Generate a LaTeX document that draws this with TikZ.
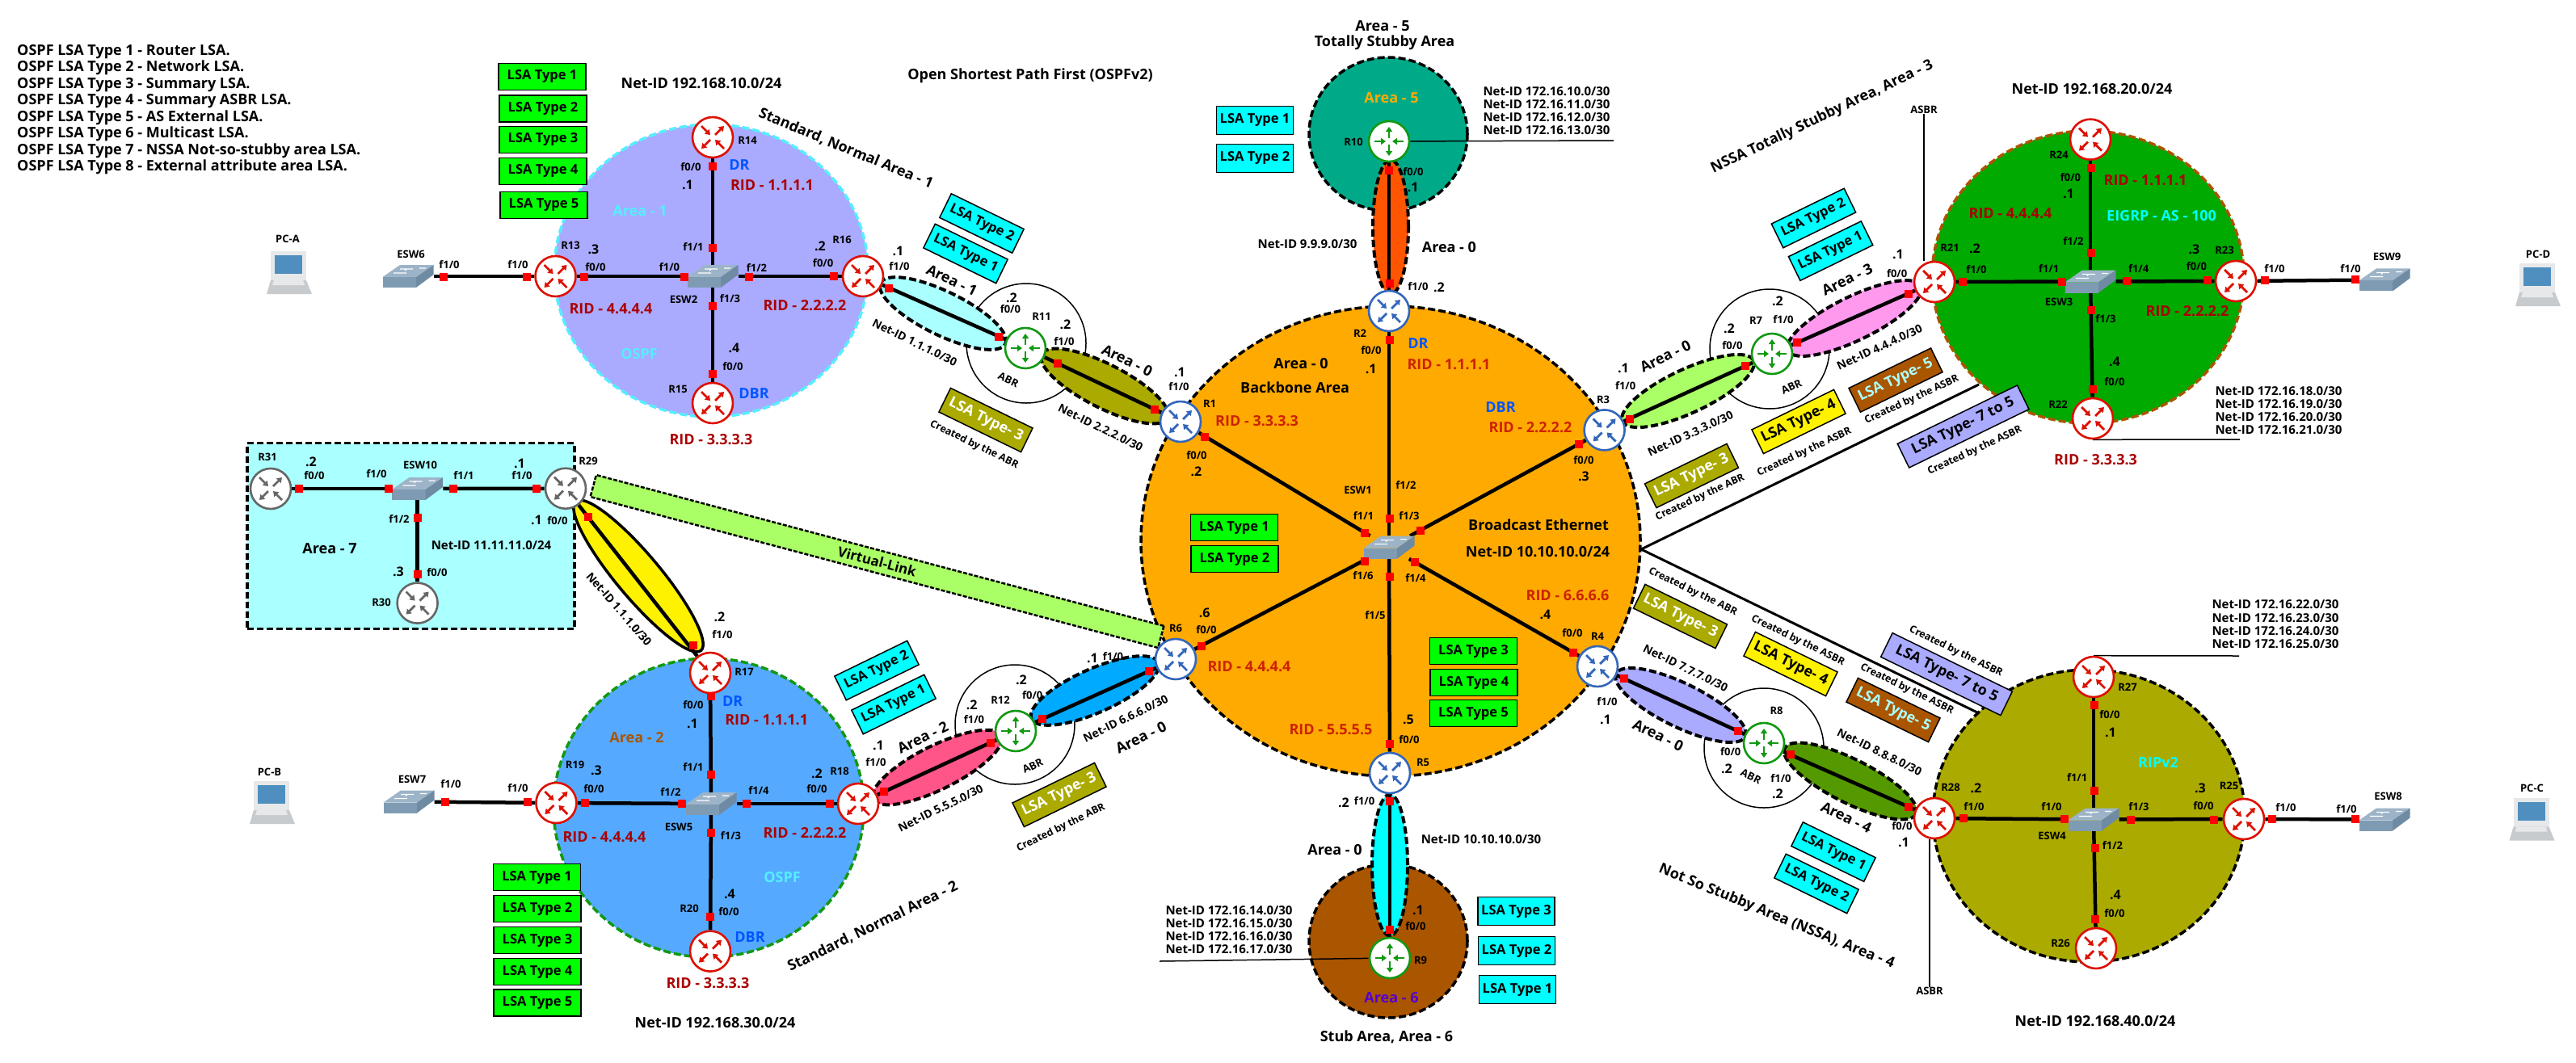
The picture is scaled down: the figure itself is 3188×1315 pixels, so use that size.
\documentclass[tikz,border=0pt]{standalone}
\usepackage{fontspec}
\setmainfont{Open Sans}
\usetikzlibrary{shapes.geometric,arrows.meta}
\pgfdeclarelayer{back}
\pgfdeclarelayer{mid}
\pgfsetlayers{back,mid,main}
\definecolor{lsagreen}{HTML}{00FF00}
\definecolor{lsacyan}{HTML}{00FFFF}
\definecolor{ospforange}{HTML}{FFAA00}
\definecolor{ridred}{HTML}{AA0000}
\definecolor{ridorange}{HTML}{CC2200}
\definecolor{drblue}{HTML}{0055FF}
\definecolor{areabrown}{HTML}{AA5500}
\definecolor{areaolive}{HTML}{AAAA00}
\definecolor{lavender}{HTML}{AAAAFF}
\definecolor{paleaqua}{HTML}{AAFFFF}
\definecolor{palegreen}{HTML}{AAFF66}
\definecolor{skyfill}{HTML}{55AAFF}
\definecolor{tealfill}{HTML}{00AA88}
\definecolor{grassfill}{HTML}{00AA00}
\definecolor{routerred}{HTML}{DD1100}
\definecolor{routerblue}{HTML}{3366BB}
\definecolor{routergreen}{HTML}{119911}
\definecolor{routergray}{HTML}{666666}
\definecolor{swtop}{HTML}{9DB4C8}
\definecolor{swfront}{HTML}{7F9BB3}
\definecolor{swside}{HTML}{6F8BA3}
\definecolor{screenblue}{HTML}{4F8FC0}
\definecolor{pcbody}{HTML}{E6E8EA}
\definecolor{pcbase}{HTML}{C8CBCE}
\definecolor{tunpink}{HTML}{FF99EE}
\definecolor{tunrose}{HTML}{FF5588}
\definecolor{tunblue}{HTML}{00AAFF}
\definecolor{tunred}{HTML}{FF5500}
\definecolor{tungreen}{HTML}{559900}
\definecolor{areaviolet}{HTML}{5500CC}
\definecolor{areacyan}{HTML}{55EEFF}
\tikzset{
  tinytxt/.style={inner sep=0pt,font=\fontsize{13}{15}\selectfont\bfseries},
  dottxt/.style={inner sep=0pt,font=\fontsize{16}{18}\selectfont\bfseries},
  madetxt/.style={inner sep=0pt,font=\fontsize{12.5}{14}\selectfont\bfseries},
  slanttxt/.style={inner sep=0pt,font=\fontsize{14}{16}\selectfont\bfseries},
  midtxt/.style={inner sep=0pt,font=\fontsize{15}{16}\selectfont\bfseries},
  bigtxt/.style={inner sep=0pt,font=\fontsize{18}{20}\selectfont\bfseries},
  ridtxt/.style={inner sep=0pt,text=ridred,font=\fontsize{18}{20}\selectfont\bfseries},
  lsabox/.style={draw=black,line width=1.5pt,inner sep=0pt,minimum width=108pt,minimum height=33pt,
    font=\fontsize{16.5}{17}\selectfont\bfseries},
  greenlsa/.style={lsabox,fill=lsagreen},
  cyanlsa/.style={lsabox,fill=lsacyan,minimum width=95pt,minimum height=35pt},
  slantlsa/.style={lsabox,minimum width=113pt,font=\fontsize{18}{19}\selectfont\bfseries},
  area/.style={ellipse,inner sep=0pt,line width=3.5pt,dash pattern=on 9pt off 4pt},
  tunnel/.style={area,draw=black,line width=4pt,minimum height=54pt},
  abrzone/.style={circle,draw=black,line width=1.5pt,fill=white,inner sep=0pt,minimum size=148pt},
  link/.style={draw=black,line width=4.5pt},
  thinlink/.style={draw=black,line width=1.5pt},
  dashline/.style={draw=black,line width=3pt},
  port/.style={fill=red,inner sep=0pt,minimum size=10pt},
  rarrow/.style={line width=2.8pt,-{Triangle[length=6pt,width=8pt]}},
  router/.style={circle,draw=#1,line width=2.6pt,fill=white,inner sep=0pt,minimum size=50pt,
    path picture={
      \begin{scope}[shift={(path picture bounding box.center)}]
        \draw[rarrow,#1] (-14,-14) -- (-3,-3);
        \draw[rarrow,#1] (3,-3) -- (14,-14);
        \draw[rarrow,#1] (-3,3) -- (-14,14);
        \draw[rarrow,#1] (14,14) -- (3,3);
      \end{scope}}},
  abrouter/.style={circle,draw=routergreen,line width=2.6pt,fill=white,inner sep=0pt,minimum size=50pt,
    path picture={
      \begin{scope}[shift={(path picture bounding box.center)}]
        \draw[rarrow,routergreen] (0,-4) -- (0,-18);
        \draw[rarrow,routergreen] (0,4) -- (0,18);
        \draw[rarrow,routergreen] (-18,0) -- (-4,0);
        \draw[rarrow,routergreen] (18,0) -- (4,0);
      \end{scope}}},
  switchbox/.style={inner sep=0pt,minimum width=63pt,minimum height=28pt,
    path picture={
      \begin{scope}[shift={(path picture bounding box.center)}]
        \fill[swtop] (-31.5,1) -- (-10,-14) -- (31.5,-14) -- (10,1) -- cycle;
        \fill[swfront] (-31.5,1) -- (10,1) -- (10,14) -- (-31.5,14) -- cycle;
        \fill[swside] (10,1) -- (31.5,-14) -- (31.5,-2) -- (10,14) -- cycle;
        \draw[white,line width=1.2pt] (-10,-9) -- (6,-9) (-2,-4) -- (-18,-4) (14,-10) -- (22,-10) (-2,-9) -- (-4,-7);
      \end{scope}}},
  pcbox/.style={inner sep=0pt,minimum width=60pt,minimum height=56pt,
    path picture={
      \begin{scope}[shift={(path picture bounding box.center)}]
        \fill[pcbody] (-23,-27) rectangle (21,9);
        \fill[screenblue] (-18,-22) rectangle (16,1);
        \fill[pcbase] (-23,9) -- (21,9) -- (28,26) -- (-28,26) -- cycle;
        \fill[pcbody] (-19,9) -- (17,9) -- (19,15) -- (-21,15) -- cycle;
      \end{scope}}}
}
\begin{document}
\begin{tikzpicture}[x=1pt,y=-1pt]
  \useasboundingbox (0,0) rectangle (3188,1315);

  % areas
  \begin{pgfonlayer}{back}
    \node (Area1) [area,draw=areacyan,fill=lavender,minimum width=388pt,minimum height=362pt] at (880,335) {};
    \node (Area2) [area,draw=routergreen,fill=skyfill,minimum width=384pt,minimum height=370pt] at (877,1000) {};
    \node (Area0) [area,draw=black,fill=ospforange,minimum width=618pt,minimum height=582pt] at (1721,670) {};
    \node (Area5) [area,draw=black,fill=tealfill,minimum width=196pt,minimum height=190pt] at (1718,166) {};
    \node (Area6) [area,draw=black,fill=areabrown,minimum width=196pt,minimum height=190pt] at (1718,1165) {};
    \node (Area3) [area,draw=areabrown,fill=grassfill,minimum width=386pt,minimum height=362pt] at (2584,343) {};
    \node (Area4) [area,draw=black,fill=areaolive,minimum width=386pt,minimum height=362pt] at (2585,1010) {};
    \node (Area7) [draw=black,line width=3.5pt,dash pattern=on 8pt off 4pt,fill=paleaqua,inner sep=0pt,
      minimum width=405pt,minimum height=230pt] at (508.5,663.5) {};
  \end{pgfonlayer}

  % routers
  \foreach \n/\x/\y in {R1/1461/522,R2/1719/385,R3/1985.6/532.4,R4/1977/825,R5/1720/957,R6/1455/816}
    \node (\n) [router=routerblue] at (\x,\y) {};
  \foreach \n/\x/\y in {R14/882/170,R13/687.5/342,R16/1068/342,R15/882/499,
      R17/879/833,R19/688.4/994,R18/1062/995,R20/879/1177.6,
      R24/2587/172.6,R21/2394/349,R23/2767/348,R22/2590/518,
      R27/2591/838,R28/2394/1013,R25/2777/1014,R26/2594/1174}
    \node (\n) [router=routerred] at (\x,\y) {};
  \foreach \n/\x/\y in {R31/335/605,R29/700/604.7,R30/516.6/746.6}
    \node (\n) [router=routergray] at (\x,\y) {};
  \foreach \n/\x/\y in {R7/2193/438,R8/2183/920,R9/1720/1186,R10/1719/175,R11/1269/431,R12/1257/905}
    \node (\n) [abrouter] at (\x,\y) {};

  % switches and hosts
  \foreach \n/\x/\y in {ESW1/1719/677.6,ESW2/882/342,ESW3/2587/348.5,ESW4/2591/1014.5,ESW5/880/995,
      ESW6/505/342,ESW7/506/992.5,ESW8/2951/1014.5,ESW9/2951/346.4,ESW10/516.6/605}
    \node (\n) [switchbox] at (\x,\y) {};
  \foreach \n/\x/\y in {PCA/358/338,PCB/337/994,PCC/3133.5/1014.5,PCD/3141/353}
    \node (\n) [pcbox] at (\x,\y) {};

  % tunnels between the areas
  \begin{pgfonlayer}{mid}
    \node (zoneR11) [abrzone] at (1270,425) {};
    \node (zoneR12) [abrzone] at (1256,897) {};
    \node (zoneR7) [abrzone] at (2190,432) {};
    \node (zoneR8) [abrzone] at (2183,926) {};

    \node (vlink) [draw=black,line width=2.5pt,dash pattern=on 5pt off 2pt,fill=palegreen,rotate=-14.9,
      inner sep=0pt,minimum width=727pt,minimum height=28pt,font=\fontsize{17}{18}\selectfont\bfseries] at (1085.5,695) {Virtual-Link};

    \node (tunR16) [tunnel,fill=paleaqua,rotate=-26,minimum width=172pt] at (1167,388) {};
    \node (tunR1) [tunnel,fill=areaolive,rotate=-27,minimum width=175pt] at (1367,478) {};
    \node (tunR3) [tunnel,fill=palegreen,rotate=25,minimum width=179pt] at (2089,484) {};
    \node (tunR21) [tunnel,fill=tunpink,rotate=26,minimum width=183pt] at (2295,394) {};
    \node (tunR4) [tunnel,fill=lavender,rotate=-26,minimum width=178pt] at (2080,873) {};
    \node (tunR28) [tunnel,fill=tungreen,rotate=-26.7,minimum width=182pt] at (2290,967) {};
    \node (tunR18) [tunnel,fill=tunrose,rotate=26.5,minimum width=177pt] at (1160,950) {};
    \node (tunR6) [tunnel,fill=tunblue,rotate=24,minimum width=172pt] at (1355,855) {};
    \node (tunR2) [tunnel,fill=tunred,minimum width=44pt,minimum height=166pt] at (1721,281) {};
    \node (tunR5) [tunnel,fill=lsacyan,minimum width=44pt,minimum height=175pt] at (1720,1071) {};
    \node (tunR29) [ellipse,draw=black,line width=3.5pt,fill=yellow,inner sep=0pt,rotate=-50,
      minimum width=241pt,minimum height=54pt] at (790,713) {};

    % links
    \foreach \a/\b in {R14/ESW2,R13/ESW2,R16/ESW2,R15/ESW2,R13/ESW6,
        R17/ESW5,R19/ESW5,R18/ESW5,R20/ESW5,R19/ESW7,
        R1/ESW1,R2/ESW1,R3/ESW1,R4/ESW1,R5/ESW1,R6/ESW1,
        R24/ESW3,R21/ESW3,R23/ESW3,R22/ESW3,R23/ESW9,
        R27/ESW4,R28/ESW4,R25/ESW4,R26/ESW4,R25/ESW8,
        R31/ESW10,R29/ESW10,R30/ESW10,
        R16/R11,R11/R1,R18/R12,R12/R6,R3/R7,R7/R21,R4/R8,R8/R28,R2/R10,R5/R9,R29/R17}
      \draw[link] (\a) -- (\b);

    \coordinate (endR10) at (1997,174);
    \coordinate (endR9) at (1435,1190);
    \coordinate (endR22) at (2772,544);
    \coordinate (endR27) at (2771,812);
    \coordinate (brk) at (2031,680);
    \coordinate (brkUp) at (2449,476);
    \coordinate (brkLow) at (2447,882);
    \draw[thinlink] (R10) -- (endR10);
    \draw[thinlink] (R9) -- (endR9);
    \draw[thinlink] (R22.south) -- (endR22);
    \draw[thinlink] (R27.north) -- (endR27);
    \draw[dashline] (brk) -- (brkUp);
    \draw[dashline] (brk) -- (brkLow);
  \end{pgfonlayer}

  % port marks
  \foreach[count=\i] \x/\y in {549/343,652/343,723/343,847/343,927/343,1032/342,882/307,882/206,882/379,882/463,
      370/605,481/605,561/605,664/605,516.6/641,516.6/711,728/640,857.5/799,
      551/993,652.6/993,724/994,844/995,924/995,1026.6/995,880/959,880/862,880/1031,879/1134.5,
      1100/356.5,1236/416.7,1309/450,1429/507,1094/980,1226/920,1290/890,1422/830.5,
      1491/541,1954/550,1720/421,1486.6/799.5,1689/660,1688.6/695,1720/642,1758/657,1750.6/696,1720/714,1947/808,1720/921,
      1719/210.5,1720/350.6,1720/992,1720/1150.5,
      2009.5/840,2151/905,2216/934,2362/998.6,2160/452.5,2017/518.5,2224/424,2362/364,
      2429/349,2552/349,2632/348,2731.5/347,2802.6/347,2915/346.4,2588/208,2588/313,2588/384,2590/482,
      2430/1013,2555/1013.7,2636.5/1014.5,2740/1014.5,2811.5/1014,2915/1014,2592/873,2592/979,2592.5/1050,2593/1138}
    \node (port\i) [port] at (\x,\y) {};

  % interface names
  \foreach[count=\i] \x/\y in {855/207,737/331,1018.6/326,907/454,389/589,690/645,541/709,
      858/873,735/977,1011/977,902/1129,1277.7/861,1481/564,1697/434,1960/570,1493/779.5,1946/783.5,1744/916,
      1749/213,1752/1147,1250.4/383,2144/428,2141.7/931,2562.4/220,2718.5/330,2617/472.6,2347.6/339,
      2611/885,2727/998,2617/1131,2354/1023}
    \node (fa\i) [tinytxt] at (\x,\y) {f0/0};
  \foreach[count=\i] \x/\y in {556/328,641/327.5,828.5/331,1113/330,1317/422.6,466/587,646/589,894/786,
      558/971,641/976,1084/944,1205.5/891,1377.5/813,1459/479,1755/355,2011.6/478,1688.6/992,1989/869,
      2207/396,2204/964,2446/334,2815/333,2909/332.5,2443/998.6,2539/998.6,2829/1000,2904/1002}
    \node (fb\i) [tinytxt] at (\x,\y) {f1/0};
  \foreach[count=\i] \x/\y in {858/306,574/589,858/950,1687.5/639,2535.6/332.5,2570.6/963}
    \node (fc\i) [tinytxt] at (\x,\y) {f1/1};
  \foreach[count=\i] \x/\y in {936.5/332,494/643,830/981,1740/600.6,2566/299,2614.5/1047}
    \node (fd\i) [tinytxt] at (\x,\y) {f1/2};
  \foreach[count=\i] \x/\y in {903.5/370,904.5/1035,1744/639,2606/395,2647/998.6}
    \node (fe\i) [tinytxt] at (\x,\y) {f1/3};
  \foreach[count=\i] \x/\y in {939/979,1752/716,2646.6/333}
    \node (ff\i) [tinytxt] at (\x,\y) {f1/4};
  \node (fg1) [tinytxt] at (1702,762) {f1/5};
  \node (fh1) [tinytxt] at (1687,713) {f1/6};

  % host addresses
  \foreach[count=\i] \x/\y/\t in {851/229/1,1111.5/310.6/1,643/574/1,664/644/1,857/896/1,1087/923/1,1352/815/1,1460/461/1,
      1696.6/457/1,1748.6/232/1,2009/456/1,1755/1126.6/1,1987/891/1,2560/240/1,2349/315/1,2612/907/1,2356/1043/1,
      1015/305/2,385/572/2,1252/369/2,1318.5/401.5/2,890.5/764/2,1011/958/2,1202.6/873/2,1264/842/2,1480.5/584/2,
      1781/356/2,1663/993.6/2,2200/373/2,2140/407/2,2137/952/2,2200/983/2,2444/308/2,2445.5/976/2,
      734.5/309/3,493/707.6/3,738/954/3,1960/590/3,2715.5/309/3,2723/976/3,
      908.5/431/4,903/1106.6/4,1912.5/760.5/4,2617/448/4,2618/1108/4,1743/891/5,1490.6/759/6}
    \node (dot\i) [dottxt] at (\x,\y) {.\t};

  % device names
  \foreach[count=\i] \x/\y/\t in {925/174/R14,706/304/R13,1042/297/R16,839/482/R15,331/565.6/R31,728/571/R29,472/746/R30,
      921/832/R17,711.6/947/R19,1039/955/R18,853/1125/R20,1238/867/R12,1455/778/R6,1497/500/R1,1683/413/R2,1984/495/R3,
      1977/788/R4,1761/944/R5,1758/1188.6/R9,1675/176/R10,1289/392/R11,2548/192/R24,2413/307/R21,2753/310/R23,2547/501/R22,
      2173/397/R7,2198.5/880/R8,2633/851/R27,2414/974.5/R28,2758.5/973/R25,2550/1168/R26,
      846/371/ESW2,508.6/315/ESW6,520/576/ESW10,510/965/ESW7,840/1023.5/ESW5,1680.5/606.5/ESW1,2548/374/ESW3,
      2954/318/ESW9,2539.5/1035/ESW4,2955.5/986/ESW8,356/296/PC-A,333.5/955.5/PC-B,3133.5/976/PC-C,3141/314.4/PC-D}
    \node (dev\i) [tinytxt] at (\x,\y) {\t};
  \node (ASBRa) [tinytxt] at (2381,136) {ASBR};
  \node (ASBRb) [tinytxt] at (2388,1227) {ASBR};
  \begin{pgfonlayer}{mid}
    \draw[thinlink] (ASBRa.south) -- (ASBRa.south |- R21.north);
    \draw[thinlink] (ASBRb.north) -- (ASBRb.north |- R28.south);
  \end{pgfonlayer}

  % router ids
  \foreach[count=\i] \x/\y/\t in {955.5/229/1.1.1.1,756/382/4.4.4.4,996/378/2.2.2.2,880/544/3.3.3.3,
      948.7/891/1.1.1.1,748/1036/4.4.4.4,996/1031/2.2.2.2,876/1217/3.3.3.3,
      2655/223.5/1.1.1.1,2488/264/4.4.4.4,2707/385.5/2.2.2.2,2593.6/569.5/3.3.3.3}
    \node (rid\i) [ridtxt] at (\x,\y) {RID - \t};
  \foreach[count=\i] \x/\y/\t in {1555.6/521.5/3.3.3.3,1793/451/1.1.1.1,1894/529.5/2.2.2.2,1546/825.6/4.4.4.4,1647/903/5.5.5.5,1940/737.5/6.6.6.6}
    \node (ridz\i) [ridtxt,text=ridorange] at (\x,\y) {RID - \t};

  % DR and DBR
  \foreach[count=\i] \x/\y/\t in {915/204/DR,933/487/DBR,906.6/868/DR,928/1160/DBR,1755/425.5/DR,1857/504/DBR}
    \node (role\i) [bigtxt,text=drblue] at (\x,\y) {\t};

  % coloured area names
  \node (nameA1) [bigtxt,text=areacyan] at (792,261) {Area - 1};
  \node (nameO1) [bigtxt,text=areacyan] at (791,438) {OSPF};
  \node (nameA2) [bigtxt,text=areabrown] at (788,913) {Area - 2};
  \node (nameO2) [bigtxt,text=areacyan] at (968,1086) {OSPF};
  \node (nameA5) [bigtxt,text=ospforange] at (1722,121.6) {Area - 5};
  \node (nameA6) [bigtxt,text=areaviolet] at (1722,1235) {Area - 6};
  \node (nameE) [bigtxt,text=lsacyan] at (2675,267) {EIGRP - AS - 100};
  \node (nameR) [bigtxt,text=lsacyan] at (2671,944) {RIPv2};

  % black titles
  \foreach[count=\i] \x/\y/\t in {868/103/192.168.10.0,885/1266/192.168.30.0,
      2589/110/192.168.20.0,2593/1264/192.168.40.0,1903/683/10.10.10.0}
    \node (net\i) [bigtxt] at (\x,\y) {Net-ID \t/24};
  \node (title) [bigtxt] at (1275,94) {Open Shortest Path First (OSPFv2)};
  \node (titleA5) [bigtxt] at (1711,32) {Area - 5};
  \node (titleTS) [bigtxt] at (1713.5,53) {Totally Stubby Area};
  \node (titleA0) [bigtxt] at (1610,450) {Area - 0};
  \node (titleBB) [bigtxt] at (1602.6,480) {Backbone Area};
  \node (titleBE) [bigtxt] at (1904,650) {Broadcast Ethernet};
  \node (titleA7) [bigtxt] at (408,679) {Area - 7};
  \node (titleSt) [bigtxt] at (1716,1283.5) {Stub Area, Area - 6};
  \node (titleUp) [bigtxt] at (1793.4,305.6) {Area - 0};
  \node (titleDn) [bigtxt] at (1652,1052) {Area - 0};

  % slanted titles
  \node (slantS1) [bigtxt,rotate=-22.5] at (1047,184) {Standard, Normal Area - 1};
  \node (slantS2) [bigtxt,rotate=26] at (1080,1147) {Standard, Normal Area - 2};
  \node (slantN3) [bigtxt,rotate=25.5] at (2255,145) {NSSA Totally Stubby Area, Area - 3};
  \node (slantN4) [bigtxt,rotate=-22.3] at (2198.5,1135) {Not So Stubby Area (NSSA), Area - 4};
  \foreach[count=\i] \x/\y/\a/\t in {1178/347/-26/Area - 1,1395/446/-26/Area - 0,1142/913/26/Area - 2,1412/913/26/Area - 0,
      2061/441/26/Area - 0,2286/346/26/Area - 3,2052/910/-26/Area - 0,2285/1012/-26/Area - 4}
    \node (slantA\i) [bigtxt,rotate=\a] at (\x,\y) {\t};

  % net ids
  \foreach[count=\i] \x/\y/\a/\t in {1132/424/-26/1.1.1.0,1362/529.5/-26/2.2.2.0,766/754/-49/1.1.1.0,
      1164/1000.6/26/5.5.5.0,1393/889.5/26/6.6.6.0,2092/537/25/3.3.3.0,2326/430/25/4.4.4.0,
      2086/827/-26/7.7.7.0,2326/931/-26/8.8.8.0}
    \node (slantN\i) [slanttxt,rotate=\a] at (\x,\y) {Net-ID \t/30};
  \node (netA7) [midtxt] at (608,675) {Net-ID 11.11.11.0/24};
  \foreach[count=\i] \x/\y/\t in {1618/302/9.9.9.0,1833/1039/10.10.10.0,
      1914/113/172.16.10.0,1914/129/172.16.11.0,1914/145/172.16.12.0,1914/161/172.16.13.0,
      1521/1127/172.16.14.0,1521/1143/172.16.15.0,1521/1159/172.16.16.0,1521/1175/172.16.17.0,
      2820/484.5/172.16.18.0,2820/500.5/172.16.19.0,2820/516.5/172.16.20.0,2820/532.4/172.16.21.0,
      2816/748.5/172.16.22.0,2816/765/172.16.23.0,2816/781/172.16.24.0,2816/797/172.16.25.0}
    \node (netS\i) [midtxt] at (\x,\y) {Net-ID \t/30};

  % abr tags and creators
  \foreach[count=\i] \x/\y/\a in {1248/470/-26,1278/948/26,2217/479/25,2167/961/-26}
    \node (abr\i) [tinytxt,rotate=\a] at (\x,\y) {ABR};
  \foreach[count=\i] \x/\y/\a/\t in {1205.5/550.5/-26/ABR,1313/1025/26/ABR,2104/616/25/ABR,2095/732.5/-26/ABR,
      2233/560/25/ASBR,2366/495/25/ASBR,2444/558/25/ASBR,2225/793/-26/ASBR,2360/853/-26/ASBR,2420.5/806.6/-26/ASBR}
    \node (made\i) [madetxt,rotate=\a] at (\x,\y) {Created by the \t};

  % lsa boxes
  \foreach[count=\i] \x/\y/\t in {671/95/1,672/134.5/2,672/173/3,672/212/4,673/254/5,
      664.6/1086/1,665/1125/2,665/1164/3,665/1203/4,665/1241.5/5,
      1527.5/653/1,1528/692/2,1823.5/806/3,1824/845/4,1823.5/883/5}
    \node (lsaG\i) [greenlsa] at (\x,\y) {LSA Type \t};
  \foreach[count=\i] \x/\y/\t in {1553/149/1,1553/196/2,1876.5/1128/3,1877/1177/2,1878/1225/1}
    \node (lsaC\i) [cyanlsa] at (\x,\y) {LSA Type \t};
  \foreach[count=\i] \x/\y/\a/\t in {1215/276.5/-26/2,1195/314/-26/1,1085/830/26/2,1106/872/26/1,
      2244.5/270/26/2,2265.6/310.6/26/1,2269/1054.6/-26/1,2248/1094/-26/2}
    \node (lsaS\i) [lsabox,fill=lsacyan,minimum width=100pt,rotate=\a] at (\x,\y) {LSA Type \t};
  \foreach[count=\i] \x/\y/\a in {1220/520/-26,1311/984/26,2093.5/589/26,2079.5/763/-26}
    \node (lsaO\i) [slantlsa,fill=areaolive,text=white,rotate=\a] at (\x,\y) {LSA Type- 3};
  \node (lsaY1) [slantlsa,fill=yellow,rotate=26] at (2226,522) {LSA Type- 4};
  \node (lsaY2) [slantlsa,fill=yellow,rotate=-26] at (2216,822) {LSA Type- 4};
  \node (lsaB1) [slantlsa,fill=areabrown,text=paleaqua,rotate=26] at (2346,470.6) {LSA Type- 5};
  \node (lsaB2) [slantlsa,fill=areabrown,text=paleaqua,rotate=-26] at (2343,879) {LSA Type- 5};
  \node (lsaL1) [slantlsa,fill=lavender,minimum width=165pt,rotate=26] at (2429.6,528) {LSA Type- 7 to 5};
  \node (lsaL2) [slantlsa,fill=lavender,minimum width=165pt,rotate=-26] at (2409,834.6) {LSA Type- 7 to 5};

  % legend
  \node (legend) [anchor=north west,inner sep=0pt,align=left,font=\fontsize{18}{20.5}\selectfont\bfseries] at (21,55)
    {OSPF LSA Type 1 - Router LSA.\\
     OSPF LSA Type 2 - Network LSA.\\
     OSPF LSA Type 3 - Summary LSA.\\
     OSPF LSA Type 4 - Summary ASBR LSA.\\
     OSPF LSA Type 5 - AS External LSA.\\
     OSPF LSA Type 6 - Multicast LSA.\\
     OSPF LSA Type 7 - NSSA Not-so-stubby area LSA.\\
     OSPF LSA Type 8 - External attribute area LSA.};
\end{tikzpicture}
\end{document}
